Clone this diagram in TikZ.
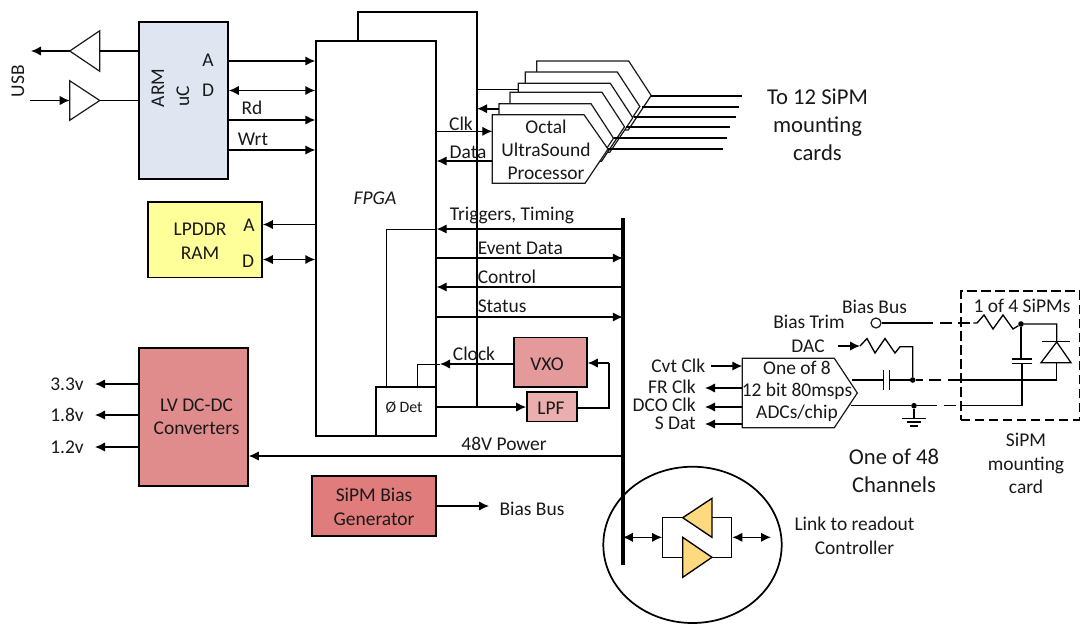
\documentclass[tikz,border=0pt]{standalone}
\usepackage{fontspec}
\setmainfont{Carlito}
\usetikzlibrary{arrows.meta,fit,shapes.geometric}
\definecolor{armfill}{HTML}{DFE6F2}
\definecolor{ramfill}{HTML}{FFFF99}
\definecolor{lvfill}{HTML}{E08C8C}
\definecolor{vxofill}{HTML}{E49A9A}
\definecolor{lpffill}{HTML}{EBAEAE}
\definecolor{biasfill}{HTML}{E07C7C}
\definecolor{ampfill}{HTML}{FFD97F}
\tikzset{
  boxn/.style={draw=black,line width=1.15pt,inner sep=0pt,fit={#1}},
  wire/.style={draw=black,line width=1pt},
  thinw/.style={draw=black,line width=0.75pt},
  sig/.style={wire,-{Latex[length=7.5pt,width=7pt]}},
  sigb/.style={wire,{Latex[length=7.5pt,width=7pt]}-{Latex[length=7.5pt,width=7pt]}},
  hsig/.style={sig,line width=1.3pt},
  hsigb/.style={sigb,line width=1.3pt},
  outline/.style={draw=black!90,line width=0.9pt,fill=white,line join=miter},
  lbl/.style={inner sep=0pt,font=\fontsize{14.6}{14}\selectfont,align=center,text=black!90},
  biglbl/.style={inner sep=0pt,font=\fontsize{17}{16}\selectfont,align=center,text=black!90},
  lead/.style={draw=black,line width=1.5pt},
  dot/.style={circle,fill=black,inner sep=0pt,minimum size=4.2pt},
  dashw/.style={wire,dash pattern=on 9pt off 5pt},
  amp/.style={draw=black,line width=1pt,fill=ampfill,line join=miter},
}
\begin{document}
\begin{tikzpicture}[x=0.75pt,y=-0.75pt]
\useasboundingbox (0,0) rectangle (1080,626);
% ---- feedback behind everything
\coordinate (fbtop) at (358,41);
\coordinate (fbcorner) at (477,12);
% ---- stacked octal processors, back to front
\foreach \x/\y in {536.7/61,525.3/72,518.3/83.3,510/92.3,499/103.7}{
  \draw[outline] (\x,\y) -- ++(92,0) -- ++(22.5,34.5) -- ++(-23,34.5) -- ++(-91.5,0) -- cycle;
}
\draw[outline] (492.3,114.7) coordinate (oa) -- (584,114.7) -- (608,149) coordinate (otip) -- (585,183.3) -- (492.3,183.3) -- cycle;
% ---- boxes
\node[boxn={(139,22)(228,179)},fill=armfill] (arm) {};
\node[boxn={(316,41)(436,436)},fill=white,line width=1pt] (fpga) {};
\node[boxn={(148,202)(262,277.7)},fill=ramfill] (ram) {};
\node[boxn={(139,348)(248,486)},fill=lvfill] (lv) {};
\node[boxn={(312,476)(436,536)},fill=biasfill] (biasgen) {};
\node[boxn={(514,337.7)(587,387)},fill=vxofill] (vxo) {};
\node[boxn={(527,392)(577,421.7)},fill=lpffill] (lpf) {};
\node[boxn={(376,387)(435.5,436)},fill=white,line width=1pt] (det) {};
% ---- USB amplifiers
\node[inner sep=0pt,fit={(70,31)(99.5,71)}] (ampa) {};
\node[inner sep=0pt,fit={(70,81)(99.5,120)}] (ampb) {};
\draw[outline] (ampa.west) -- (ampa.north east) -- (ampa.south east) -- cycle;
\draw[outline] (ampb.east) -- (ampb.north west) -- (ampb.south west) -- cycle;
\coordinate (usbout) at (31,51);
\coordinate (usbin) at (30,100.5);
\draw[wire] (arm.west |- 0,51) -- (ampa.east |- 0,51);
\draw[wire] (arm.west |- 0,100.5) -- (ampb.east);
\draw[sig] (ampa.west) -- (usbout);
\draw[sig] (usbin) -- (ampb.west);
% ---- ARM to FPGA
\draw[hsig] (arm.east |- 0,61) -- (fpga.west |- 0,61);
\draw[hsigb] (arm.east |- 0,90.5) -- (fpga.west |- 0,90.5);
\draw[sig] (arm.east |- 0,120) -- (fpga.west |- 0,120);
\draw[sig] (arm.east |- 0,150) -- (fpga.west |- 0,150);
% ---- RAM
\draw[hsig] (fpga.west |- 0,224.5) -- (ram.east |- 0,224.5);
\draw[hsigb] (ram.east |- 0,259.5) -- (fpga.west |- 0,259.5);
% ---- feedback loop
\draw[wire] (fbtop) |- (fbcorner) -- (477,407);
% ---- octal links
\coordinate (stackmid) at (518.3,89.7);
\coordinate (stackb) at (499,108.7);
\draw[wire] (477,89.7) -- (stackmid);
\draw[hsig] (stackb) -- (477,108.7);
\draw[sig] (fpga.east |- 0,131.3) -- (oa |- 0,131.3);
\draw[sig] (oa |- 0,161) -- (fpga.east |- 0,161);
% ---- leads out of processors
\foreach \tx/\ty/\ex in {651/95.7/742,641.7/106.7/738.5,634/117.3/736,626/127/730,614/137.5/727,608/149/723}{
  \draw[lead] (\tx,\ty) -- (\ex,\ty);
}
% ---- bus
\coordinate (bustop) at (622.8,218);
\coordinate (busbot) at (622.8,565);
\draw[draw=black,line width=2.7pt] (bustop) -- (busbot);
\draw[sig] (bustop |- 0,229) -- (fpga.east |- 0,229);
\coordinate (trigjoin) at (386.7,229);
\draw[thinw] (fpga.east |- trigjoin) -- (trigjoin) -- (trigjoin |- det.north);
\draw[sig] (fpga.east |- 0,258) -- (bustop |- 0,258);
\draw[sig] (bustop |- 0,287) -- (fpga.east |- 0,287);
\draw[sig] (fpga.east |- 0,317) -- (bustop |- 0,317);
% ---- clock loop
\coordinate (clkjoin) at (417.5,364);
\draw[sig] (vxo.west |- clkjoin) -- (440,364);
\draw[thinw] (440,364) -- (clkjoin) -- (clkjoin |- det.north);
\draw[hsig] (det.east |- 0,407) -- (lpf.west |- 0,407);
\coordinate (lpfr) at (609,408);
\draw[wire] (lpf.east |- lpfr) -- (lpfr) -- (609,363);
\draw[sig] (609,363) -- (vxo.east |- 0,363);
% ---- 48 V
\draw[sig] (bustop |- 0,456) -- (lv.east |- 0,456);
\coordinate (v33) at (95,384);
\coordinate (v18) at (95,415);
\coordinate (v12) at (95,447);
\draw[sig] (lv.west |- v33) -- (v33);
\draw[sig] (lv.west |- v18) -- (v18);
\draw[sig] (lv.west |- v12) -- (v12);
\coordinate (biasend) at (489,506);
\draw[sig] (biasgen.east |- biasend) -- (biasend);
% ---- link circle
\node[draw=black,line width=1.3pt,ellipse,inner sep=0pt,minimum width=133.8pt,minimum height=117.2pt] (linkc) at (692.5,544.85) {};
\node[draw=black,line width=0.95pt,inner sep=0pt,fit={(662.7,517.7)(731.7,557.3)}] (looprect) {};
\draw[amp] (682.7,517.7) -- (712,498.3) -- (712,537.3) -- cycle;
\draw[amp] (712,557.3) -- (682.7,537.3) -- (682.7,577.3) -- cycle;
\coordinate (linkout) at (771,537.3);
\draw[sigb] (bustop |- linkout) -- (looprect.west |- linkout);
\draw[sigb] (looprect.east |- linkout) -- (linkout);
% ---- ADC
\draw[outline] (742.3,358.3) coordinate (adca) -- (834.3,358.3) -- (857.3,393) -- (834.3,427.7) -- (742.3,427.7) -- cycle;
\coordinate (cvt) at (711,366);
\coordinate (fr) at (705,388);
\coordinate (dco) at (705,407);
\coordinate (sd) at (705,424);
\draw[sig] (cvt) -- (adca |- cvt);
\draw[sig] (adca |- fr) -- (fr);
\draw[sig] (adca |- dco) -- (dco);
\draw[sig] (adca |- sd) -- (sd);
% ---- analog front end
\node[draw=black!90,line width=0.9pt,circle,fill=white,minimum size=7.5pt,inner sep=0pt] (biasc) at (876,323) {};
\coordinate (r1a) at (973.3,323);
\node[dot] (n1) at (1021,324) {};
\node[dot] (n2) at (912.7,380) {};
\node[dot] (n3) at (914,405.7) {};
\draw[wire] (biasc.east) -- (921,323);
\draw[dashw] (921,323) -- (r1a);
\draw[wire,line join=miter] (r1a) -- (977,323) -- (984,315) -- (993,329) -- (1003,315) -- (1013,329) -- (n1) -- (1056.7,324) -- (1056.7,342);
\draw[wire] (1042,341.7) -- (1070,341.7);
\draw[draw=black,line width=0.95pt,fill=white,line join=miter] (1056.7,342) -- (1071,362.7) -- (1041,362.7) -- cycle;
\draw[wire] (1056.7,362.7) -- (1056.7,380) -- (960,380);
\draw[dashw] (960,380) -- (n2);
\coordinate (dacin) at (838,346);
\coordinate (r2a) at (860,346);
\draw[sig] (dacin) -- (r2a);
\draw[wire,line join=miter] (r2a) -- (867,338.5) -- (875,353) -- (885,338.5) -- (895,353) -- (900,346.7) -- (912.7,346.7) -- (n2);
\draw[wire] (851.7,380) -- (883.3,380);
\draw[wire] (889.3,380) -- (n2);
\draw[draw=black,line width=1pt] (883.3,370) -- (883.3,390) (889.3,370) -- (889.3,390);
\draw[wire] (851,405.7) -- (n3) -- (925,405.7);
\draw[dashw] (925,405.7) -- (960,405.7);
\draw[wire] (960,405.7) -- (1022,405.7) -- (1022,363.7);
\draw[wire] (n1) -- (1021,359);
\draw[draw=black,line width=1pt] (1011.7,359) -- (1031.7,359) (1011.7,363.7) -- (1031.7,363.7);
\draw[wire] (n3) -- (914,418.7);
\draw[draw=black,line width=0.95pt] (901.7,418.7) -- (925.7,418.7) (906.7,422) -- (921,422) (910,426) -- (918,426);
\node[draw=black,line width=1.15pt,dash pattern=on 7pt off 3.5pt,inner sep=0pt,fit={(961,291)(1079.3,420)}] (sipmbox) {};
% ---- labels
\node[lbl,rotate=90] (usbl) at (18,81) {USB};
\node[lbl,rotate=90] (arml) at (158,88) {ARM};
\node[lbl,rotate=90] (ucl) at (183,96) {uC};
\node[lbl] (al) at (208,60) {A};
\node[lbl] (dl) at (208,90) {D};
\node[lbl] (rdl) at (252,108) {Rd};
\node[lbl] (wrtl) at (253,139) {Wrt};
\node[lbl] (ramt) at (200,241) {LPDDR\\[4pt]RAM};
\node[lbl] (ra) at (249,225) {A};
\node[lbl] (rd) at (248,261) {D};
\node[lbl,font=\fontsize{14.6}{14}\selectfont\itshape] (fpgal) at (375,198) {FPGA};
\node[lbl] (clkl) at (461,124) {Clk};
\node[lbl] (datal) at (468,152) {Data};
\node[lbl] (octl) at (546,150) {Octal\\[3.2pt]UltraSound\\[3.2pt]Processor};
\node[lbl,anchor=west] (trigl) at (449.5,215) {Triggers, Timing};
\node[lbl,anchor=west] (evl) at (477.5,248) {Event Data};
\node[lbl,anchor=west] (ctl) at (477.5,277) {Control};
\node[lbl,anchor=west] (stl) at (477.5,306) {Status};
\node[lbl] (clkn) at (474,354) {Clock};
\node[lbl] (vxol) at (547,364) {VXO};
\node[lbl] (lpfl) at (551,408) {LPF};
\node[lbl,font=\fontsize{11.9}{12}\selectfont] (detl) at (404,408) {Ø Det};
\node[lbl] (pwrl) at (504,444) {48V Power};
\node[lbl] (lvl) at (196.5,417) {LV DC-DC\\[3.2pt]Converters};
\node[lbl] (bgl) at (374,507) {SiPM Bias\\[4pt]Generator};
\node[lbl] (bbl) at (532,509) {Bias Bus};
\node[lbl] (v33l) at (67,384) {3.3v};
\node[lbl] (v18l) at (67,415) {1.8v};
\node[lbl] (v12l) at (67,447) {1.2v};
\node[biglbl] (tol) at (817.5,125) {To 12 SiPM\\[5pt]mounting\\[5pt]cards};
\node[lbl,anchor=east] (cvtl) at (705.5,366) {Cvt Clk};
\node[lbl,anchor=east] (frl) at (696,387) {FR Clk};
\node[lbl,anchor=east] (dcol) at (696,405) {DCO Clk};
\node[lbl,anchor=east] (sdl) at (696,423.5) {S Dat};
\node[lbl] (adcl) at (797,391) {One of 8\\[2.5pt]12 bit 80msps\\[2.5pt]ADCs/chip};
\node[lbl] (bbus) at (874.5,307) {Bias Bus};
\node[lbl] (btrim) at (809,322) {Bias Trim};
\node[lbl] (dacl) at (808,346) {DAC};
\node[lbl] (s4l) at (1022,306) {1 of 4 SiPMs};
\node[biglbl] (chl) at (894,471) {One of 48\\[5pt]Channels};
\node[lbl] (cardl) at (1026,463.5) {SiPM\\[3.6pt]mounting\\[3.6pt]card};
\node[lbl] (linkl) at (854.5,536) {Link to readout\\[4pt]Controller};
\end{tikzpicture}
\end{document}
